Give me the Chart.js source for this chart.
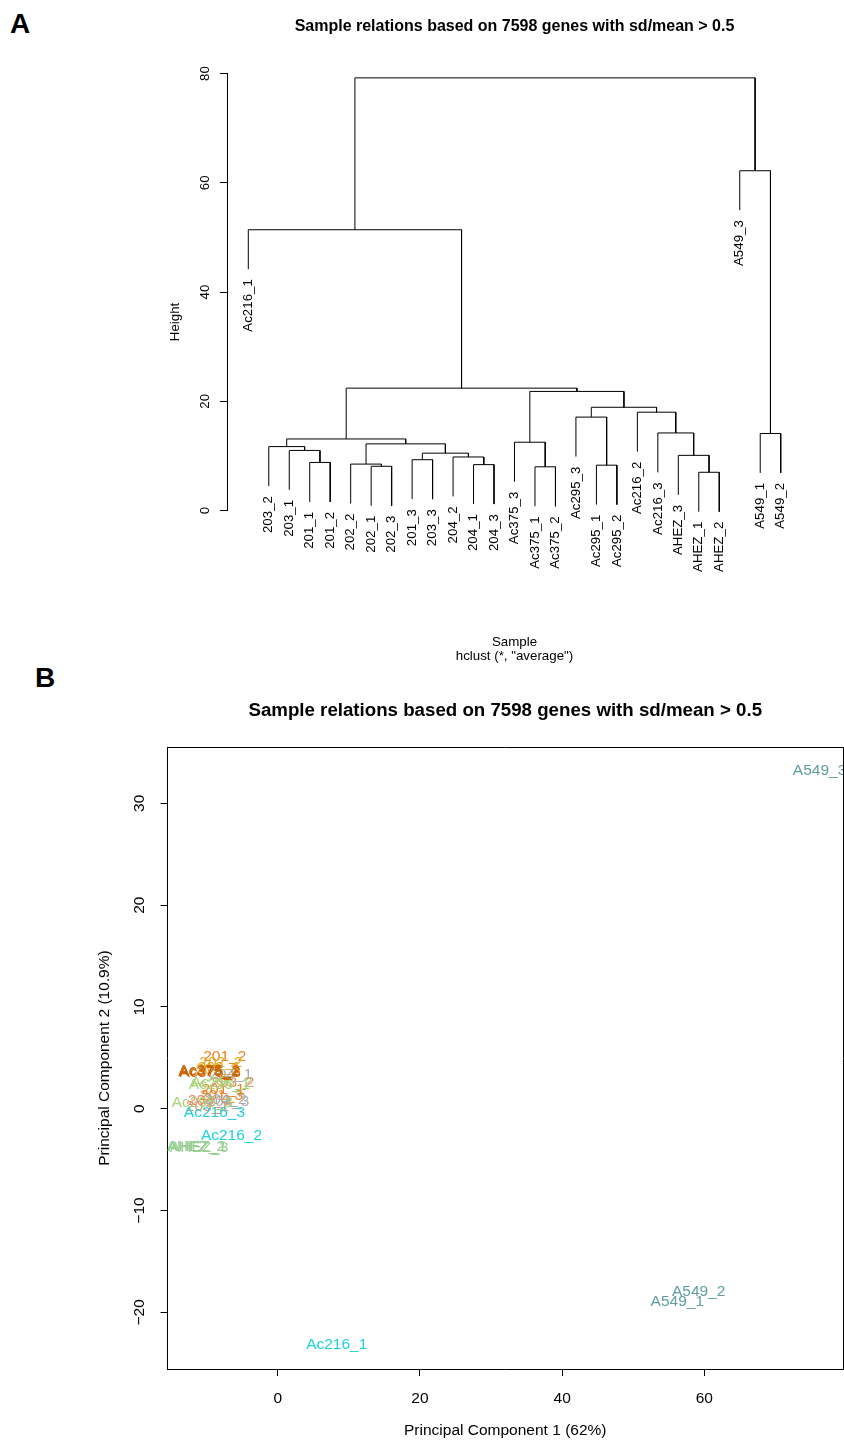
<!DOCTYPE html>
<html><head><meta charset="utf-8">
<script src="https://cdn.jsdelivr.net/npm/chart.js@4.4.1/dist/chart.umd.min.js"></script>
<style>
html,body{margin:0;padding:0;background:#fff;overflow:hidden;width:844px;height:1440px;}
#wrap{position:relative;width:844px;height:1440px;overflow:hidden;background:#fff;}
.panel{position:absolute;left:0;}
.tag{position:absolute;font-family:"Liberation Sans",Arial,sans-serif;font-weight:bold;font-size:28px;color:#000;line-height:1;}
</style></head><body>
<div id="wrap">
<div class="tag" style="left:10px;top:10px">A</div>
<div class="tag" style="left:35px;top:664px">B</div>
<div class="panel" style="top:0px;"><canvas id="cA" width="900" height="680"></canvas></div>
<div class="panel" style="top:690px;"><canvas id="cB" width="915" height="750"></canvas></div>
</div>
<script>
// ---------- DATA ----------
const chartTitle = 'Sample relations based on 7598 genes with sd/mean > 0.5';

// Dendrogram (panel A): leaves in plotted order
const leafLabels = ['Ac216_1','203_2','203_1','201_1','201_2','202_2','202_1','202_3','201_3','203_3',
  '204_2','204_1','204_3','Ac375_3','Ac375_1','Ac375_2','Ac295_3','Ac295_1','Ac295_2','Ac216_2',
  'Ac216_3','AHEZ_3','AHEZ_1','AHEZ_2','A549_3','A549_1','A549_2'];
// R-style merge pairs (negative = leaf index, positive = earlier merge)
const mergePairs = [[-23,-24],[-15,-16],[-7,-8],[-18,-19],[-12,-13],[-6,3],[-4,-5],[-9,-10],[-11,5],
  [-22,1],[8,9],[-3,7],[-2,12],[6,11],[-14,2],[13,14],[-26,-27],[-21,10],[-17,4],[-20,18],[19,20],
  [15,21],[16,22],[-1,23],[-25,17],[24,25]];
const mergeHeights = [7.0,8.0,8.1,8.3,8.4,8.5,8.8,9.3,9.8,10.1,10.5,11.0,11.7,12.2,12.5,13.1,14.1,14.2,
  17.1,18.0,18.9,21.8,22.4,51.4,62.2,79.2];
const yTicksA = [0,20,40,60,80];

// PCA (panel B)
const pcaLabels = ['201_1','201_2','201_3','202_1','202_2','202_3','203_1','203_2','203_3',
  '204_1','204_2','204_3','A549_1','A549_2','A549_3','Ac216_1','Ac216_2','Ac216_3',
  'Ac295_1','Ac295_2','Ac295_3','Ac375_1','Ac375_2','Ac375_3','AHEZ_1','AHEZ_2','AHEZ_3'];
const pc1 = [-7.7,-7.45,-7.9,-8.2,-8.0,-8.5,-9.9,-6.3,-9.6,-6.6,-7.4,-7.0,56.2,59.2,76.2,8.3,-6.5,-8.9,
  -8.2,-7.9,-10.6,-9.7,-9.6,-9.5,-11.3,-11.5,-11.05];
const pc2 = [1.9,5.1,1.3,4.0,4.5,3.8,0.2,2.6,0.8,3.3,0.9,0.7,-19.0,-18.0,33.2,-23.2,-2.7,-0.4,
  2.4,2.6,0.55,3.6,3.7,3.5,-3.75,-3.7,-3.8];
const xTicksB = [0,20,40,60];
const yTicksB = [-20,-10,0,10,20,30];

// ---------- STYLE ----------
const FONT = '"Liberation Sans", Arial, Helvetica, sans-serif';
Chart.defaults.font.family = FONT;
Chart.defaults.color = '#000';
const groupColors = {
  '201':'#EE8222','202':'#E8A91C','203':'#F2866C','204':'#AAAAAA',
  'Ac216':'#1CD2DA','Ac295':'#A8D276','Ac375':'#C8660A','AHEZ':'#9ACF96','A549':'#5F9EA0'
};
const colorOf = l => groupColors[l.split('_')[0]];

// ---------- Panel A: dendrogram geometry from merges ----------
const nLeaf = leafLabels.length;
const hMax = Math.max(...mergeHeights), hMin = Math.min(...mergeHeights);
const hang = 0.1 * (hMax - hMin);
const nodeX = [], leafEnd = new Array(nLeaf).fill(0);
const segSets = [];
function childInfo(c, parentH){
  if (c < 0){ const i = -c - 1; leafEnd[i] = parentH - hang; return {x: i + 1, y: parentH - hang}; }
  return {x: nodeX[c - 1], y: mergeHeights[c - 1]};
}
mergePairs.forEach((p, k) => {
  const h = mergeHeights[k];
  const L = childInfo(p[0], h), R = childInfo(p[1], h);
  nodeX[k] = (L.x + R.x) / 2;
  segSets.push({
    data: [{x:L.x,y:L.y},{x:L.x,y:h},{x:R.x,y:h},{x:R.x,y:R.y}],
    showLine: true, pointRadius: 0, borderColor: '#000', borderWidth: 1, tension: 0, fill: false
  });
});
const xPadA = 0.04 * (nLeaf - 1);

const alignPx = p => Math.round(p - 0.5) + 0.5;

const dendroExtras = {
  id: 'dendroExtras',
  afterDraw(chart){
    const ctx = chart.ctx, xs = chart.scales.x, ys = chart.scales.y;
    ctx.save();
    ctx.strokeStyle = '#000'; ctx.lineWidth = 1;
    const ax = alignPx(ys.right);
    ctx.beginPath();
    ctx.moveTo(ax, ys.getPixelForValue(yTicksA[0]) + 0.5);
    ctx.lineTo(ax, ys.getPixelForValue(yTicksA[yTicksA.length - 1]) - 0.5);
    ctx.stroke();
    ctx.fillStyle = '#000';
    ctx.font = '13.3px ' + FONT;
    ctx.textAlign = 'right'; ctx.textBaseline = 'middle';
    leafLabels.forEach((lab, i) => {
      const px = xs.getPixelForValue(i + 1), py = ys.getPixelForValue(leafEnd[i]) + 10;
      ctx.save(); ctx.translate(px, py); ctx.rotate(-Math.PI / 2);
      ctx.fillText(lab, 0, 0); ctx.restore();
    });
    ctx.restore();
  }
};

new Chart(document.getElementById('cA'), {
  type: 'scatter',
  data: { datasets: segSets },
  options: {
    responsive: false, animation: false, events: [],
    layout: { padding: { left: 160, right: 31, top: 0, bottom: 0 } },
    plugins: {
      legend: { display: false }, tooltip: { enabled: false },
      title: { display: true, text: chartTitle, color: '#000',
        font: { size: 16, weight: 'bold' }, padding: { top: 17.4, bottom: 17.4 } }
    },
    scales: {
      x: { type: 'linear', min: 1 - xPadA, max: nLeaf + xPadA, display: true,
        grid: { display: false, drawTicks: false }, border: { display: false }, ticks: { display: false },
        title: { display: true, text: ['Sample', 'hclust (*, "average")'], color: '#000',
          font: { size: 13.3, lineHeight: 1.09 }, padding: { top: 0, bottom: 16.3 } },
        afterFit: s => { s.height = 90; } },
      y: { type: 'linear', position: 'left', min: -14.55, max: 83.57,
        afterBuildTicks: s => { s.ticks = yTicksA.map(v => ({ value: v })); },
        grid: { display: true, drawOnChartArea: false, drawTicks: true, tickLength: 7, color: '#000' },
        border: { display: false },
        ticks: { minRotation: 90, maxRotation: 90, crossAlign: 'center', padding: 7.6,
          font: { size: 13.3 }, color: '#000' },
        title: { display: true, text: 'Height', color: '#000', font: { size: 13.3 }, padding: { top: 7, bottom: 0 } },
        afterFit: s => { s.width = 67; } },
      yR: { type: 'linear', position: 'right', display: true,
        grid: { display: false, drawTicks: false }, border: { display: false }, ticks: { display: false },
        afterFit: s => { s.width = 67; } }
    }
  },
  plugins: [dendroExtras]
});

// ---------- Panel B: PCA ----------
const pcaText = {
  id: 'pcaText',
  afterDatasetsDraw(chart){
    const ctx = chart.ctx, a = chart.chartArea, meta = chart.getDatasetMeta(0);
    ctx.save();
    ctx.beginPath(); ctx.rect(a.left, a.top, a.right - a.left, a.bottom - a.top); ctx.clip();
    ctx.font = '15.5px ' + FONT; ctx.textAlign = 'center'; ctx.textBaseline = 'middle';
    meta.data.forEach((el, i) => {
      ctx.fillStyle = colorOf(pcaLabels[i]);
      ctx.fillText(pcaLabels[i], el.x, el.y);
    });
    ctx.restore();
  }
};
const minusFmt = v => (v < 0 ? '\u2212' + Math.abs(v) : String(v));

new Chart(document.getElementById('cB'), {
  type: 'scatter',
  data: { datasets: [{ data: pcaLabels.map((l, i) => ({ x: pc1[i], y: pc2[i] })), pointRadius: 0, pointHoverRadius: 0 }] },
  options: {
    responsive: false, animation: false, events: [],
    layout: { padding: { left: 95.5, right: 0, top: 0, bottom: 0 } },
    plugins: {
      legend: { display: false }, tooltip: { enabled: false },
      title: { display: true, text: chartTitle, color: '#000',
        font: { size: 18.7, weight: 'bold' }, padding: { top: 9.8, bottom: 24.8 } }
    },
    scales: {
      x: { type: 'linear', position: 'bottom', min: -15.5, max: 79.5,
        afterBuildTicks: s => { s.ticks = xTicksB.map(v => ({ value: v })); },
        grid: { display: true, drawOnChartArea: false, drawTicks: true, tickLength: 7, color: '#000' },
        border: { display: true, color: '#000', width: 1 },
        ticks: { padding: 13.5, maxRotation: 0, font: { size: 15.5 }, color: '#000', callback: minusFmt },
        title: { display: true, text: 'Principal Component 1 (62%)', color: '#000', font: { size: 15.5 }, padding: 0 },
        afterFit: s => { s.height = 71; } },
      y: { type: 'linear', position: 'left', min: -25.57, max: 35.53,
        afterBuildTicks: s => { s.ticks = yTicksB.map(v => ({ value: v })); },
        grid: { display: true, drawOnChartArea: false, drawTicks: true, tickLength: 7, color: '#000' },
        border: { display: true, color: '#000', width: 1 },
        ticks: { minRotation: 90, maxRotation: 90, crossAlign: 'center', padding: 7.4,
          font: { size: 15.5 }, color: '#000', callback: minusFmt },
        title: { display: true, text: 'Principal Component 2 (10.9%)', color: '#000', font: { size: 15.5 }, padding: { top: 0, bottom: 0 } },
        afterFit: s => { s.width = 72; } },
      x2: { type: 'linear', position: 'top', display: true,
        grid: { display: false, drawTicks: false }, border: { display: true, color: '#000', width: 1 },
        ticks: { display: false }, afterFit: s => { s.height = 0; } },
      y2: { type: 'linear', position: 'right', display: true,
        grid: { display: false, drawTicks: false }, border: { display: true, color: '#000', width: 1 },
        ticks: { display: false }, afterFit: s => { s.width = 72; } }
    }
  },
  plugins: [pcaText]
});
</script>
</body></html>
